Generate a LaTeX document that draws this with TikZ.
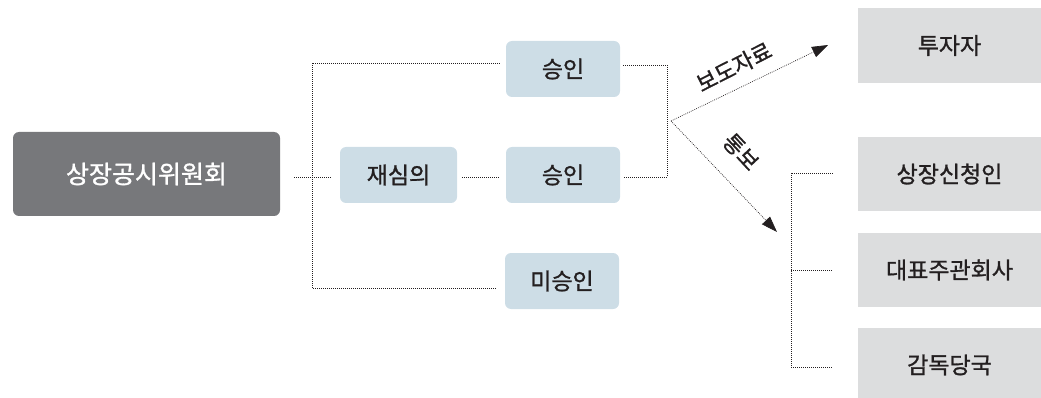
\documentclass[tikz,border=0pt]{standalone}
\usepackage{fontspec}
\setmainfont{Noto Sans CJK KR}[BoldFont={Noto Sans CJK KR}, BoldFeatures={FakeBold=1.2}]
\usetikzlibrary{arrows.meta,calc}
\definecolor{darkbox}{HTML}{77787B}
\definecolor{bluebox}{HTML}{CDDDE6}
\definecolor{graybox}{HTML}{DCDDDE}
\definecolor{ink}{HTML}{231F20}
\begin{document}
\begin{tikzpicture}[x=1pt,y=-1pt,
  dotline/.style={draw=ink, line width=0.7pt, dash pattern=on 0.8pt off 1.2pt},
  arrowline/.style={dotline, -{Triangle[length=16pt,width=11pt]}},
  mainbox/.style={fill=darkbox, rounded corners=6pt, text=white, font=\fontsize{25}{25}\selectfont\bfseries, minimum width=267pt, minimum height=84pt, inner sep=0pt},
  bluebx/.style={fill=bluebox, rounded corners=6pt, text=ink, font=\fontsize{23}{23}\selectfont\bfseries, minimum width=114pt, minimum height=56pt, inner sep=0pt},
  graybx/.style={fill=graybox, text=ink, font=\fontsize{23}{23}\selectfont\bfseries, minimum width=183pt, minimum height=74pt, inner sep=0pt},
  lbl/.style={text=ink, font=\fontsize{22}{22}\selectfont\bfseries, inner sep=0pt}
]
\useasboundingbox (0,0) rectangle (1041,398);
% nodes
\node[mainbox] (main) at (146.5,174) {상장공시위원회};
\node[bluebx, minimum width=117pt] (re) at (398.5,175) {재심의};
\node[bluebx] (ok1) at (563,69) {승인};
\node[bluebx] (ok2) at (563,175) {승인};
\node[bluebx] (no) at (562,281) {미승인};
\node[graybx, minimum height=75pt] (inv) at (949.5,45.5) {투자자};
\node[graybx] (apl) at (949.5,174) {상장신청인};
\node[graybx] (maj) at (949.5,270) {대표주관회사};
\node[graybx] (sup) at (949.5,365) {감독당국};
% coordinates
\coordinate (spine) at (312,177);
\coordinate (fork) at (667,121);
\coordinate (a1) at (828,45);
\coordinate (a2) at (777,232);
\coordinate (rsp) at (791,270);
% left connectors
\draw[dotline] ($(main.east)+(14,3)$) -- ($(re.west)+(-8,2)$);
\draw[dotline] ($(ok1.west)+(-6,-6)$) -| (spine) |- ($(no.west)+(-8,7)$);
\draw[dotline] ($(re.east)+(5,2)$) -- ($(ok2.west)+(-6,2)$);
% right bracket
\draw[dotline] ($(ok1.east)+(3,-4)$) -| (fork) |- ($(ok2.east)+(3,2)$);
\draw[arrowline] ($(fork)+(4,0)$) -- (a1);
\draw[arrowline] ($(fork)+(4,0)$) -- (a2);
% labels
\node[lbl, rotate=27] (l1) at (734,67) {보도자료};
\node[lbl, rotate=-47] (l2) at (741,152) {통보};
% receiver bracket
\draw[dotline] ($(apl.west)+(-25,-1)$) -| (rsp) |- ($(sup.west)+(-25,2)$);
\draw[dotline] (rsp) -- ($(maj.west)+(-25,0)$);
\end{tikzpicture}
\end{document}
